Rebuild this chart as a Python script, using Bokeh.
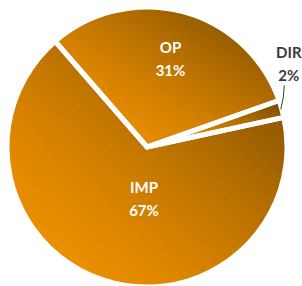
import numpy as np
from bokeh.plotting import figure
from bokeh.models import Range1d, ColumnDataSource
from bokeh.embed import file_html
from bokeh.resources import INLINE
from bokeh.core.properties import value

# ---- data ----
categories = ["OP", "DIR", "IMP"]          # clockwise order from the first slice
shares = [31, 2, 67]                        # percent
pct_labels = ["31%", "2%", "67%"]

# ---- layout / style ----
R = 140.0                 # drawn radius (white stroke eats a bit)
START_DEG = 131.0         # angle where the first slice starts (clockwise)
C_LIGHT = np.array([245, 148, 0], float)
C_DARK = np.array([112, 70, 0], float)
GAMMA = 1.5
NBANDS = 48
LABEL_POS = {"OP": (23.5, 88.5), "IMP": (-3.0, -51.5)}
FONT = value("Lato")
FSIZE = "15px"

p = figure(width=302, height=286, output_backend="svg", toolbar_location=None,
           x_range=Range1d(-146.5, 155.5), y_range=Range1d(-139.5, 146.5),
           min_border=0)
p.axis.visible = False
p.grid.visible = False
p.outline_line_color = None
p.background_fill_color = "white"
p.border_fill_color = "white"

# slice angles (clockwise accumulation)
starts, ends = [], []
cur = START_DEG
for s in shares:
    nxt = cur - s * 3.6
    starts.append(np.radians(nxt))   # anticlockwise start
    ends.append(np.radians(cur))     # anticlockwise end
    cur = nxt


def clip(poly, f, lo):
    out = []
    n = len(poly)
    for i in range(n):
        P, Q = poly[i], poly[(i + 1) % n]
        fp, fq = f(P) - lo, f(Q) - lo
        if fp >= 0:
            out.append(P)
        if fp * fq < 0:
            t = fp / (fp - fq)
            out.append((P[0] + (Q[0] - P[0]) * t, P[1] + (Q[1] - P[1]) * t))
    return out


band_xs, band_ys, band_cols = [], [], []
for a0, a1 in zip(starts, ends):
    span = a1 - a0
    npieces = int(np.ceil(span / np.pi))
    pieces = []
    allpts = [(0.0, 0.0)]
    for k in range(npieces):
        b0 = a0 + span * k / npieces
        b1 = a0 + span * (k + 1) / npieces
        ang = np.linspace(b0, b1, max(3, int(np.degrees(b1 - b0)) + 2))
        poly = [(0.0, 0.0)] + [(R * np.cos(a), R * np.sin(a)) for a in ang]
        pieces.append(poly)
        allpts += poly
    xs_all = [q[0] for q in allpts]
    ys_all = [q[1] for q in allpts]
    x0, x1 = min(xs_all), max(xs_all)
    y0, y1 = min(ys_all), max(ys_all)
    w, h = max(x1 - x0, 1e-6), max(y1 - y0, 1e-6)

    def tf(P, x0=x0, y0=y0, w=w, h=h):
        return ((P[0] - x0) / w + (P[1] - y0) / h) / 2.0

    def ntf(P, tf=tf):
        return -tf(P)

    for poly in pieces:
        for k in range(NBANDS):
            lo, hi = k / NBANDS, (k + 1) / NBANDS
            if k == 0:
                lo = -1.0
            if k == NBANDS - 1:
                hi = 2.0
            b = clip(poly, tf, lo)
            if len(b) < 3:
                continue
            b = clip(b, ntf, -hi)
            if len(b) < 3:
                continue
            tm = ((k + 0.5) / NBANDS) ** GAMMA
            c = C_LIGHT + (C_DARK - C_LIGHT) * tm
            band_xs.append([q[0] for q in b])
            band_ys.append([q[1] for q in b])
            band_cols.append("#%02x%02x%02x" % tuple(int(round(v)) for v in c))

p.patches(band_xs, band_ys, fill_color=band_cols, line_color=band_cols, line_width=1)

src = ColumnDataSource(dict(cat=categories, share=shares,
                            start=starts, end=ends))
p.wedge(x=0, y=0, radius=R, start_angle="start", end_angle="end",
        direction="anticlock", source=src, fill_alpha=0,
        line_color="white", line_width=5, line_join="miter")

# inside labels
lx, ly, lt = [], [], []
for cat, pct in zip(categories, pct_labels):
    if cat in LABEL_POS:
        lx.append(LABEL_POS[cat][0])
        ly.append(LABEL_POS[cat][1])
        lt.append(cat + "\n" + pct)
p.text(x=lx, y=ly, text=lt, text_align="center", text_baseline="middle",
       text_font=FONT, text_font_style="bold", text_font_size=FSIZE,
       text_color="white", text_line_height=1.3)

# DIR outside label with leader line
mids = [(a + b) / 2 for a, b in zip(starts, ends)]
di = categories.index("DIR")
m = mids[di]
ex, ey = (R - 2) * np.cos(m), (R - 2) * np.sin(m)
tx, ty = ex + 9, ey + 46
p.text(x=[tx], y=[ty], text=[categories[di] + "\n" + pct_labels[di]], text_align="center",
       text_baseline="middle", text_font=FONT, text_font_style="bold",
       text_font_size=FSIZE, text_color="#3a3a3a", text_line_height=1.3)
p.line(x=[ex + 1, ex + 3.5, ex + 4.5], y=[ey, ey + 12, ey + 24],
       line_color="#3a3a3a", line_width=1)

open("out.html", "w").write(file_html(p, INLINE))
